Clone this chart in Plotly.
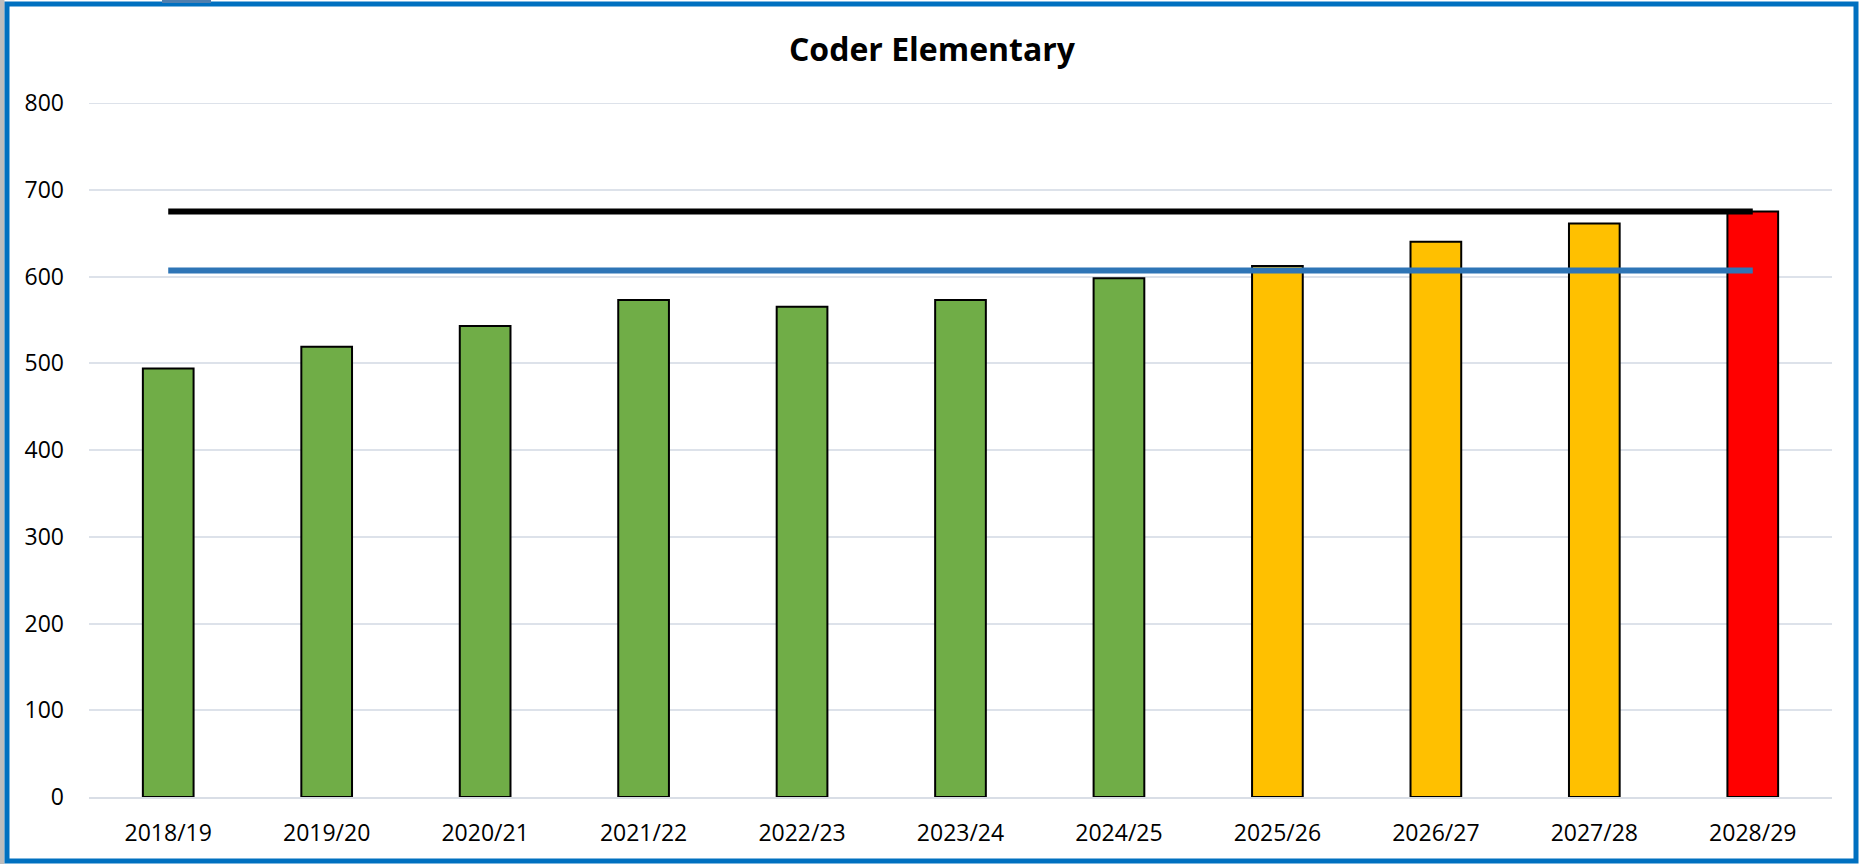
import plotly.graph_objects as go

# ---- data ----
years = ["2018/19", "2019/20", "2020/21", "2021/22", "2022/23", "2023/24",
         "2024/25", "2025/26", "2026/27", "2027/28", "2028/29"]
enrolment = [494, 519, 543, 573, 565, 573, 598, 612, 640, 661, 675]
bar_colors = ["#70AD47"] * 7 + ["#FFC000"] * 3 + ["#FF0000"]
capacity = 675
capacity_90 = 607
y_ticks = [0, 100, 200, 300, 400, 500, 600, 700, 800]

W, H = 1860, 864
L, R, T, B = 89, 1832, 103, 797  # plot area in pixels

FONT = "Open Sans"
GRID = "#DDE2EA"

fig = go.Figure()
fig.add_trace(go.Bar(
    x=years, y=enrolment,
    marker=dict(color=bar_colors, line=dict(color="black", width=2)),
    showlegend=False, hoverinfo="x+y",
))
fig.add_trace(go.Scatter(
    x=[years[0], years[-1]], y=[capacity_90, capacity_90], mode="lines",
    line=dict(color="#2E75B6", width=6), showlegend=False,
))
fig.add_trace(go.Scatter(
    x=[years[0], years[-1]], y=[capacity, capacity], mode="lines",
    line=dict(color="black", width=6), showlegend=False,
))

def px_x(p):
    return (p - L) / (R - L)

def px_y(p):
    return (B - p) / (B - T)

shapes = [
    # top gridline (at the edge of the range)
    dict(type="line", xref="paper", yref="y", x0=0, x1=1,
         y0=y_ticks[-1], y1=y_ticks[-1], line=dict(color=GRID, width=2),
         layer="below"),
    # gray strip at far left
    dict(type="rect", xref="paper", yref="paper",
         x0=px_x(0), x1=px_x(4.5), y0=px_y(864), y1=px_y(0),
         fillcolor="#BDBDBD", line=dict(width=0), layer="above"),
    # blue frame
    dict(type="rect", xref="paper", yref="paper",
         x0=px_x(7), x1=px_x(1856), y0=px_y(861), y1=px_y(4),
         fillcolor="rgba(0,0,0,0)", line=dict(color="#0070C0", width=5),
         layer="above"),
    # small tab at top
    dict(type="rect", xref="paper", yref="paper",
         x0=px_x(162), x1=px_x(211), y0=px_y(3), y1=px_y(0),
         fillcolor="#4F7FAF", line=dict(width=0), layer="above"),
]

fig.update_layout(
    width=W, height=H,
    margin=dict(l=L, r=W - R, t=T, b=H - B, pad=0),
    paper_bgcolor="white", plot_bgcolor="white",
    bargap=0.68,
    title=dict(text="<b>Coder Elementary</b>", x=932 / W, xanchor="center",
               y=1 - 50 / H, yanchor="middle",
               font=dict(family=FONT, size=32, color="black")),
    font=dict(family=FONT, size=23, color="black"),
    shapes=shapes,
    xaxis=dict(showgrid=False, showline=True, linecolor="#D9DEE6", linewidth=2,
               ticks="", ticklabelstandoff=14, tickfont=dict(size=23)),
    yaxis=dict(range=[0, 800], tickvals=y_ticks, showgrid=True,
               gridcolor=GRID, gridwidth=2, zeroline=False,
               showline=False, ticks="", ticklabelstandoff=24,
               tickfont=dict(size=23)),
)

fig.write_html("out.html",
               config={"displayModeBar": False},
               post_script="document.body.style.margin='0';"
                           "document.body.style.overflow='hidden';")
